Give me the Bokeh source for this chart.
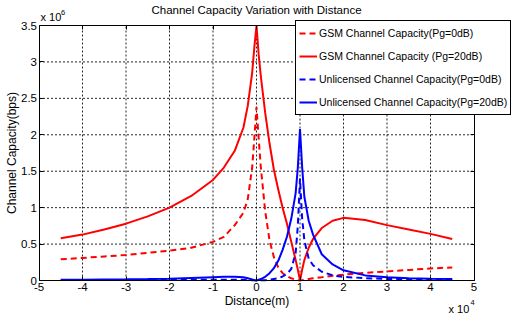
from bokeh.plotting import figure
from bokeh.models import Range1d, FixedTicker, Legend, LegendItem, Label, LinearAxis
from bokeh.embed import file_html
from bokeh.resources import INLINE

# ---- data (distance in units of 1e4 m, capacity in units of 1e6 bps) ----
distance = [-4.5, -4, -3.5, -3, -2.5, -2, -1.5, -1, -0.75, -0.5, -0.3, -0.2, -0.1, -0.05, 0,
            0.05, 0.1, 0.2, 0.3, 0.4, 0.5, 0.6, 0.7, 0.8, 0.9, 0.95, 1,
            1.05, 1.1, 1.2, 1.3, 1.5, 1.75, 2, 2.5, 3, 3.5, 4, 4.5]

gsm_0db = [0.29, 0.31, 0.33, 0.35, 0.38, 0.41, 0.45, 0.53, 0.60, 0.76, 0.93, 1.12, 1.55, 1.95, 2.38,
           1.95, 1.55, 0.95, 0.55, 0.32, 0.18, 0.10, 0.06, 0.03, 0.012, 0.005, 0.0,
           0.005, 0.01, 0.02, 0.03, 0.045, 0.065, 0.08, 0.105, 0.125, 0.145, 0.165, 0.18]

gsm_20db = [0.58, 0.63, 0.70, 0.78, 0.88, 1.00, 1.16, 1.38, 1.55, 1.78, 2.10, 2.40, 2.85, 3.2, 3.5,
            3.1, 2.8, 2.3, 1.88, 1.52, 1.25, 1.0, 0.78, 0.53, 0.28, 0.15, 0.0,
            0.15, 0.28, 0.45, 0.57, 0.72, 0.82, 0.86, 0.83, 0.76, 0.70, 0.64, 0.57]

unl_0db = [0.006, 0.006, 0.007, 0.007, 0.008, 0.009, 0.01, 0.012, 0.012, 0.012, 0.01, 0.008, 0.004, 0.002, 0.0,
           0.001, 0.002, 0.005, 0.01, 0.02, 0.03, 0.055, 0.09, 0.16, 0.38, 0.75, 1.4,
           0.85, 0.55, 0.30, 0.21, 0.12, 0.07, 0.05, 0.032, 0.022, 0.016, 0.012, 0.01]

unl_20db = [0.01, 0.012, 0.014, 0.016, 0.02, 0.025, 0.035, 0.045, 0.05, 0.05, 0.045, 0.03, 0.015, 0.005, 0.0,
            0.01, 0.02, 0.05, 0.10, 0.17, 0.27, 0.42, 0.60, 0.85, 1.2, 1.55, 2.08,
            1.55, 1.15, 0.82, 0.63, 0.36, 0.22, 0.14, 0.07, 0.045, 0.032, 0.025, 0.02]

x_ticks = [-5, -4, -3, -2, -1, 0, 1, 2, 3, 4, 5]
x_tick_labels = ["-5", "-4", "-3", "-2", "-1", "0", "1", "2", "3", "4", "5"]
y_ticks = [0, 0.5, 1, 1.5, 2, 2.5, 3, 3.5]
y_tick_labels = ["0", "0.5", "1", "1.5", "2", "2.5", "3", "3.5"]

series_labels = ["GSM Channel Capacity(Pg=0dB)",
                 "GSM Channel Capacity (Pg=20dB)",
                 "Unlicensed Channel Capacity(Pg=0dB)",
                 "Unlicensed Channel Capacity(Pg=20dB)"]

title_text = "Channel Capacity Variation with Distance"
x_label = "Distance(m)"
y_label = "Channel Capacity(bps)"

FONT = "Liberation Sans"
W, H = 515, 315          # figure size
PAGE = 0                 # offset of the figure on the page
# page pixel positions of the axes box
BOX_L, BOX_R, BOX_T, BOX_B = 38.5, 473.5, 25.0, 280.0

x_min, x_max = x_ticks[0], x_ticks[-1]
y_min, y_max = y_ticks[0], y_ticks[-1]
sx = (BOX_R - BOX_L) / (x_max - x_min)
sy = (BOX_B - BOX_T) / (y_max - y_min)
x_start = x_min - (BOX_L - PAGE) / sx
x_end = x_max + (PAGE + W - BOX_R) / sx
y_end = y_max + (BOX_T - PAGE) / sy
y_start = y_min - (PAGE + H - BOX_B) / sy

p = figure(width=W, height=H, output_backend="svg", toolbar_location=None,
           x_range=Range1d(x_start, x_end), y_range=Range1d(y_start, y_end),
           min_border=0, min_border_left=0, min_border_right=0,
           min_border_top=0, min_border_bottom=0)
p.background_fill_color = "white"
p.border_fill_color = "white"
p.outline_line_color = None
p.xgrid.visible = False
p.ygrid.visible = False


def style_axis(ax, labels=True):
    ax.axis_label_text_font = FONT
    ax.axis_label_text_font_size = "12px"
    ax.axis_label_text_font_style = "normal"
    ax.axis_label_text_color = "black"
    ax.major_label_text_font = FONT
    ax.major_label_text_font_size = "11.5px"
    ax.major_label_text_color = "black" if labels else None
    ax.major_tick_in = 4
    ax.major_tick_out = 0
    ax.minor_tick_in = 0
    ax.minor_tick_out = 0
    ax.major_tick_line_color = "black"
    ax.axis_line_color = "black"
    ax.axis_line_width = 1
    ax.major_label_standoff = 2
    ax.axis_label_standoff = 0


xa = p.xaxis[0]
ya = p.yaxis[0]
xa.ticker = FixedTicker(ticks=x_ticks)
ya.ticker = FixedTicker(ticks=y_ticks)
xa.major_label_overrides = dict(zip(x_ticks, x_tick_labels))
ya.major_label_overrides = dict(zip(y_ticks, y_tick_labels))
xa.fixed_location = y_min
ya.fixed_location = x_min
xa.bounds = (x_min, x_max)
ya.bounds = (y_min, y_max)
xa.axis_label = x_label
ya.axis_label = y_label
style_axis(xa)
style_axis(ya)

# mirrored box axes (top and right) without labels
top_ax = LinearAxis(ticker=FixedTicker(ticks=x_ticks), fixed_location=y_max, bounds=(x_min, x_max))
right_ax = LinearAxis(ticker=FixedTicker(ticks=y_ticks), fixed_location=x_max, bounds=(y_min, y_max))
style_axis(top_ax, labels=False)
style_axis(right_ax, labels=False)
p.add_layout(top_ax, "above")
p.add_layout(right_ax, "right")

# dotted grid inside the axes box, built from the tick lists
gx = x_ticks[1:-1]
gy = y_ticks[1:-1]
p.segment(x0=gx, y0=[y_min] * len(gx), x1=gx, y1=[y_max] * len(gx),
          line_color="black", line_dash="2 2", line_width=1, line_alpha=0.85, level="underlay")
p.segment(x0=[x_min] * len(gy), y0=gy, x1=[x_max] * len(gy), y1=gy,
          line_color="black", line_dash="2 2", line_width=1, line_alpha=0.85, level="underlay")

r1 = p.line(distance, gsm_0db, line_color="#ff0000", line_width=2, line_dash="6 4")
r2 = p.line(distance, gsm_20db, line_color="#ff0000", line_width=2)
r3 = p.line(distance, unl_0db, line_color="#0000ff", line_width=2, line_dash="6 4")
r4 = p.line(distance, unl_20db, line_color="#0000ff", line_width=2)

LEG_L, LEG_T, LEG_H = 295, 23, 92
legend = Legend(items=[LegendItem(label=lab, renderers=[r]) for lab, r in
                       zip(series_labels, [r1, r2, r3, r4])],
                location=(LEG_L - PAGE, PAGE + H - (LEG_T + LEG_H)))
legend.label_text_font = FONT
legend.label_text_font_size = "10.5px"
legend.label_text_color = "black"
legend.label_height = 18
legend.glyph_height = 18
legend.glyph_width = 18
legend.label_standoff = 2
legend.spacing = 5
legend.padding = 3
legend.margin = 0
legend.border_line_color = "black"
legend.border_line_width = 1
legend.border_line_alpha = 1
legend.background_fill_color = "white"
legend.background_fill_alpha = 1
p.add_layout(legend)

# title and axis multipliers
p.add_layout(Label(x=(x_min + x_max) / 2, y=y_max, text=title_text, text_align="center",
                   text_baseline="middle", y_offset=15.5,
                   text_font=FONT, text_font_size="11.5px", text_color="black"))
p.add_layout(Label(x=x_min, y=y_max, text="x 10",
                   x_offset=1.5, y_offset=3, text_baseline="bottom",
                   text_font=FONT, text_font_size="11px", text_color="black"))
p.add_layout(Label(x=x_min, y=y_max, text="6", x_offset=22, y_offset=11, text_baseline="bottom",
                   text_font=FONT, text_font_size="7.5px", text_color="black"))
p.add_layout(Label(x=x_max, y=y_min, text="x 10", x_offset=-25.5, y_offset=-22, text_baseline="top",
                   text_font=FONT, text_font_size="11px", text_color="black"))
p.add_layout(Label(x=x_max, y=y_min, text="4", x_offset=-3.5, y_offset=-19, text_baseline="top",
                   text_font=FONT, text_font_size="7.5px", text_color="black"))

open("out.html", "w").write(file_html(p, INLINE))
